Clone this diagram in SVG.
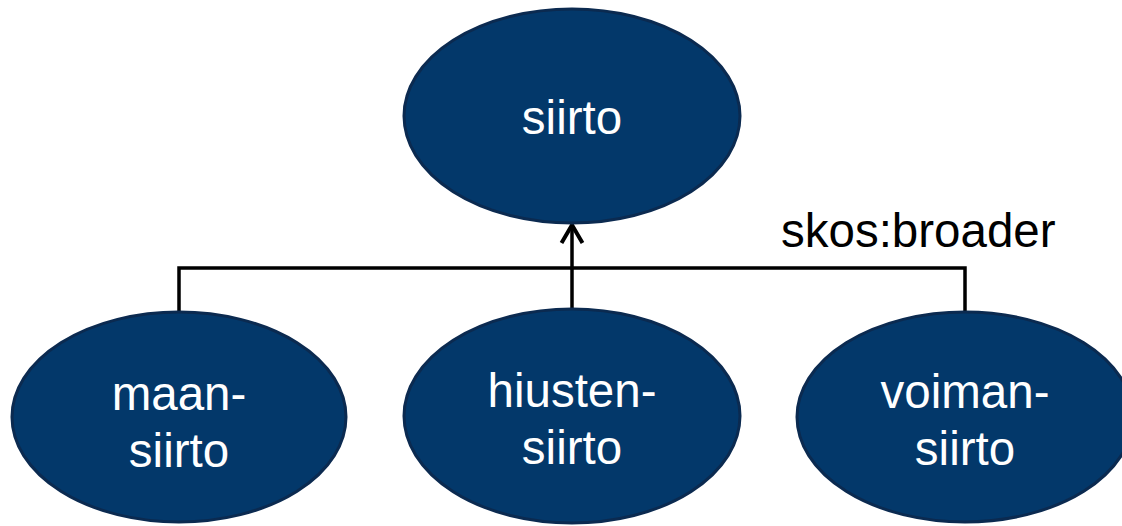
<svg xmlns="http://www.w3.org/2000/svg" width="1122" height="526" viewBox="0 0 1122 526">
<defs>
<style>
.node{fill:#03386a;stroke:#0b2a50;stroke-width:3}
.lbl{font-family:"Liberation Sans",Arial,sans-serif;font-size:47.5px;fill:#ffffff;text-anchor:middle}
.edge{fill:none;stroke:#000;stroke-width:3.5}
.elbl{font-family:"Liberation Sans",Arial,sans-serif;font-size:47.5px;fill:#000}
</style>
<marker id="arr" viewBox="0 0 24 26" refX="21" refY="13" markerWidth="24" markerHeight="26" markerUnits="userSpaceOnUse" orient="auto">
<path d="M3,2.5 L21,13 L3,23.5" fill="none" stroke="#000" stroke-width="4"/>
</marker>
</defs>
<rect width="1122" height="526" fill="#fff"/>
<g id="connectors">
<path class="edge" d="M179,312 V268 H965 V312"/>
<path class="edge" d="M572,309 V225" marker-end="url(#arr)"/>
<text class="elbl" x="781" y="247">skos:broader</text>
</g>
<g id="siirto">
<ellipse class="node" cx="572" cy="116" rx="168" ry="107"/>
<text class="lbl" x="572" y="134">siirto</text>
</g>
<g id="maansiirto">
<ellipse class="node" cx="179" cy="417" rx="167" ry="105"/>
<text class="lbl" x="179" y="410">maan-</text>
<text class="lbl" x="179" y="467">siirto</text>
</g>
<g id="hiustensiirto">
<ellipse class="node" cx="572" cy="416" rx="168" ry="107"/>
<text class="lbl" x="572" y="407">hiusten-</text>
<text class="lbl" x="572" y="464">siirto</text>
</g>
<g id="voimansiirto">
<ellipse class="node" cx="965" cy="417" rx="168" ry="105"/>
<text class="lbl" x="965" y="408">voiman-</text>
<text class="lbl" x="965" y="465">siirto</text>
</g>
</svg>
